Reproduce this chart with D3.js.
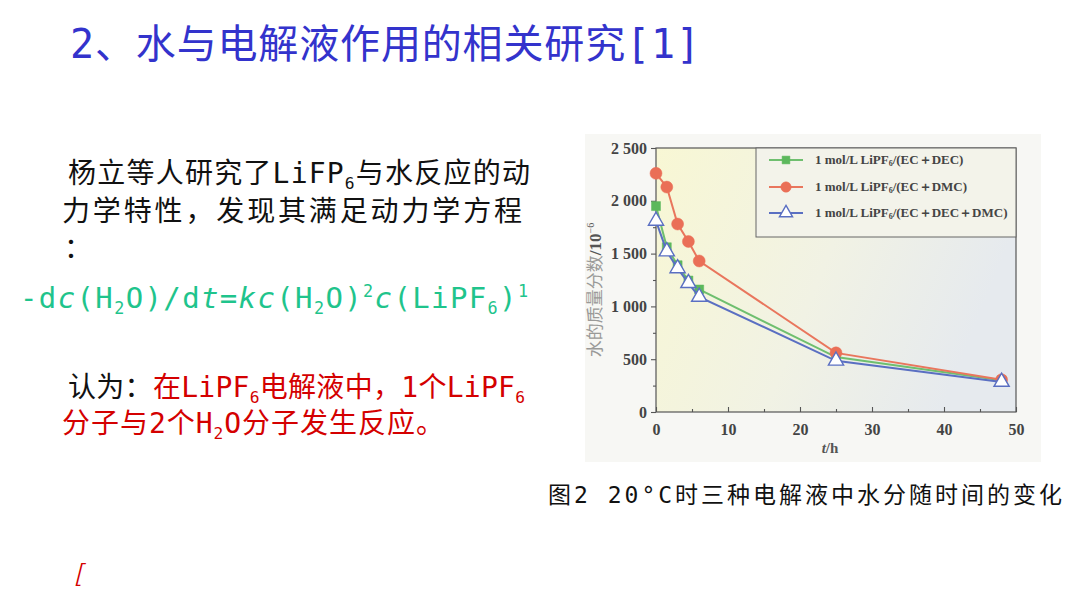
<!DOCTYPE html>
<html>
<head>
<meta charset="utf-8">
<script src="https://cdn.jsdelivr.net/npm/d3@7"></script>
<style>
  body { margin: 0; background: #fff; }
  svg { display: block; }
</style>
</head>
<body>
<svg id="chart" width="1080" height="601"></svg>
<script>
// Water content (10^-6) in three LiPF6 electrolytes vs time (h)
const hours = [0, 1.5, 3, 4.5, 6, 25, 48];
const waterDEC = [1950, 1560, 1390, 1245, 1160, 520, 300];
const waterDMC = [2260, 2130, 1780, 1615, 1430, 560, 305];
const waterMix = [1810, 1520, 1360, 1220, 1090, 485, 285];
const solvents = ["(EC+DEC)", "(EC+DMC)", "(EC+DEC+DMC)"];
const xTicks = [0, 10, 20, 30, 40, 50];
const yTicks = [0, 500, 1000, 1500, 2000, 2500];

const svg = d3.select("#chart");
// slide font: half-width mono latin, CJK falls back to Noto
const SLIDE = "'DejaVu Sans Mono', 'Noto Sans CJK SC', sans-serif";
const CJK = "'Noto Sans CJK SC', 'Noto Sans', sans-serif";
const SERIF = "'Liberation Serif', 'DejaVu Serif', serif";

// draw a line of mixed text: segments are [text, opts]
function richText(x, y, size, segs, opts = {}) {
  const t = svg.append("text")
    .attr("x", x).attr("y", y)
    .attr("font-family", SLIDE)
    .attr("font-size", size)
    .attr("fill", opts.fill || "#111");
  if (opts.width) t.attr("textLength", opts.width).attr("lengthAdjust", "spacing");
  let shift = 0;
  segs.forEach(([s, o = {}]) => {
    const ts = t.append("tspan").text(s);
    let want = 0;
    if (o.sub) want = size * 0.2;
    if (o.sup) want = -size * 0.38;
    if (want !== shift) { ts.attr("dy", want - shift); shift = want; }
    if (o.sub || o.sup) ts.attr("font-size", size * 0.58);
    if (o.fill) ts.attr("fill", o.fill);
    if (o.italic) ts.attr("font-style", "italic");
  });
  return t;
}

// ---- slide text ----
richText(70, 58, 40, [["2、水与电解液作用的相关研究[1]"]], { fill: "#3333cc", width: 630 });

richText(68, 183, 28, [["杨立等人研究了LiFP"], ["6", { sub: 1 }], ["与水反应的动"]], { width: 462 });
richText(62, 221, 28, [["力学特性，发现其满足动力学方程"]], { width: 460 });
richText(64, 258, 28, [["："]]);

const green = "#1fc48c";
richText(20, 308, 29, [
  ["-d"], ["c", { italic: 1 }], ["(H"], ["2", { sub: 1 }], ["O)/d"], ["t", { italic: 1 }],
  ["="], ["kc", { italic: 1 }], ["(H"], ["2", { sub: 1 }], ["O)"], ["2", { sup: 1 }],
  ["c", { italic: 1 }], ["(LiPF"], ["6", { sub: 1 }], [")"], ["1", { sup: 1 }]
], { fill: green, width: 508 });

const red = "#d40000";
richText(68, 397, 28, [
  ["认为：", { fill: "#111" }], ["在LiPF"], ["6", { sub: 1 }], ["电解液中，1个LiPF"], ["6", { sub: 1 }]
], { fill: red, width: 457 });
richText(62, 433, 28, [["分子与2个H"], ["2", { sub: 1 }], ["O分子发生反应。"]], { fill: red, width: 382 });

richText(548, 503, 23, [["图2 20°C时三种电解液中水分随时间的变化"]], { width: 514 });

svg.append("text").attr("x", 74).attr("y", 582)
  .attr("font-family", CJK).attr("font-size", 24).attr("font-style", "italic")
  .attr("fill", red).text("[");

// ---- chart (scanned figure look) ----
const plotL = 656, plotR = 1016, plotT = 148, plotB = 412;

svg.append("rect").attr("x", 585).attr("y", 134).attr("width", 456).attr("height", 328)
  .attr("fill", "#f7f7f4");

const defs = svg.append("defs");
const grad = defs.append("linearGradient").attr("id", "plotbg")
  .attr("x1", 0).attr("y1", 0).attr("x2", 1).attr("y2", 0.3);
grad.append("stop").attr("offset", "0%").attr("stop-color", "#f8f7d4");
grad.append("stop").attr("offset", "55%").attr("stop-color", "#f1f2e4");
grad.append("stop").attr("offset", "100%").attr("stop-color", "#e6eaee");

svg.append("rect").attr("x", plotL).attr("y", plotT)
  .attr("width", plotR - plotL).attr("height", plotB - plotT)
  .attr("fill", "url(#plotbg)").attr("stroke", "#555").attr("stroke-width", 1.2);

const x = d3.scaleLinear().domain([0, 50]).range([plotL, plotR]);
const y = d3.scaleLinear().domain([0, 2500]).range([plotB, plotT]);

const fmt = (d) => d >= 1000 ? d3.format(",")(d).replace(",", " ") : String(d);

// minor ticks
const gx = svg.append("g").attr("transform", `translate(0,${plotB})`);
gx.call(d3.axisBottom(x).tickValues(d3.range(5, 50, 10)).tickSize(-3).tickFormat(""));
gx.call((g) => g.select(".domain").remove());
const gxm = svg.append("g").attr("transform", `translate(0,${plotB})`)
  .call(d3.axisBottom(x).tickValues(xTicks).tickSize(-5).tickPadding(12).tickFormat(d3.format("d")));
gxm.select(".domain").remove();

const gy = svg.append("g").attr("transform", `translate(${plotL},0)`);
gy.call(d3.axisLeft(y).tickValues(d3.range(250, 2500, 500)).tickSize(3).tickFormat(""));
gy.call((g) => g.select(".domain").remove());
const gym = svg.append("g").attr("transform", `translate(${plotL},0)`)
  .call(d3.axisLeft(y).tickValues(yTicks).tickSize(5).tickPadding(4).tickFormat(fmt));
gym.select(".domain").remove();

svg.selectAll(".tick line").attr("stroke", "#555").attr("stroke-width", 1.1);
[gxm, gym].forEach((g) => g.selectAll("text")
  .attr("font-family", SERIF).attr("font-weight", "bold").attr("font-size", 16).attr("fill", "#444"));

// axis titles
svg.append("text").attr("x", 830).attr("y", 453).attr("text-anchor", "middle")
  .attr("font-family", SERIF).attr("font-weight", "bold").attr("font-size", 15).attr("fill", "#555")
  .call((t) => { t.append("tspan").attr("font-style", "italic").text("t"); t.append("tspan").text("/h"); });

const yl = svg.append("text").attr("transform", "translate(601,290) rotate(-90)")
  .attr("text-anchor", "middle").attr("font-size", 17).attr("fill", "#9a9a98");
yl.append("tspan").attr("font-family", CJK).text("水的质量分数");
yl.append("tspan").attr("font-family", SERIF).attr("font-weight", "bold").attr("fill", "#555").text("/10");
yl.append("tspan").attr("font-family", SERIF).attr("font-size", 10).attr("dy", -7).attr("fill", "#555").text("−6");

// series
const series = [
  { vals: waterDEC, color: "#6fbf6f", mark: "#5cb85c", symbol: d3.symbolSquare, size: 81, fill: true },
  { vals: waterDMC, color: "#e9765d", mark: "#ea6f57", symbol: d3.symbolCircle, size: 113, fill: true },
  { vals: waterMix, color: "#5a6fc2", mark: "#5a6fc2", symbol: d3.symbolTriangle, size: 100, fill: false }
];

const line = d3.line().x((d) => x(d[0])).y((d) => y(d[1]));

series.forEach((s) => {
  const pts = hours.map((h, i) => [h, s.vals[i]]);
  svg.append("path").datum(pts).attr("d", line)
    .attr("fill", "none").attr("stroke", s.color).attr("stroke-width", 2);
  svg.append("g").selectAll("path").data(pts).enter().append("path")
    .attr("transform", (d) => `translate(${x(d[0])},${y(d[1])})`)
    .attr("d", d3.symbol().type(s.symbol).size(s.size))
    .attr("fill", s.fill ? s.mark : "#fff")
    .attr("stroke", s.mark).attr("stroke-width", s.fill ? 0.5 : 1.4);
});

// legend
svg.append("rect").attr("x", 756).attr("y", plotT).attr("width", plotR - 756).attr("height", 89)
  .attr("fill", "#f3f3ea").attr("stroke", "#666").attr("stroke-width", 1);

const legY = [160, 187, 213];
series.forEach((s, i) => {
  const ly = legY[i];
  svg.append("line").attr("x1", 769).attr("x2", 803).attr("y1", ly).attr("y2", ly)
    .attr("stroke", s.color).attr("stroke-width", 2);
  svg.append("path").attr("transform", `translate(786,${ly})`)
    .attr("d", d3.symbol().type(s.symbol).size(s.size * 0.75))
    .attr("fill", s.fill ? s.mark : "#fff").attr("stroke", s.mark).attr("stroke-width", s.fill ? 0.5 : 1.4);
  const t = svg.append("text").attr("x", 815).attr("y", ly + 4)
    .attr("font-family", SERIF).attr("font-weight", "bold").attr("font-size", 13).attr("fill", "#444");
  t.append("tspan").text("1 mol/L LiPF");
  t.append("tspan").attr("font-size", 8).attr("dy", 2).text("6");
  t.append("tspan").attr("dy", -2).text("/" + solvents[i].replace(/\+/g, "＋"));
});
</script>
</body>
</html>
